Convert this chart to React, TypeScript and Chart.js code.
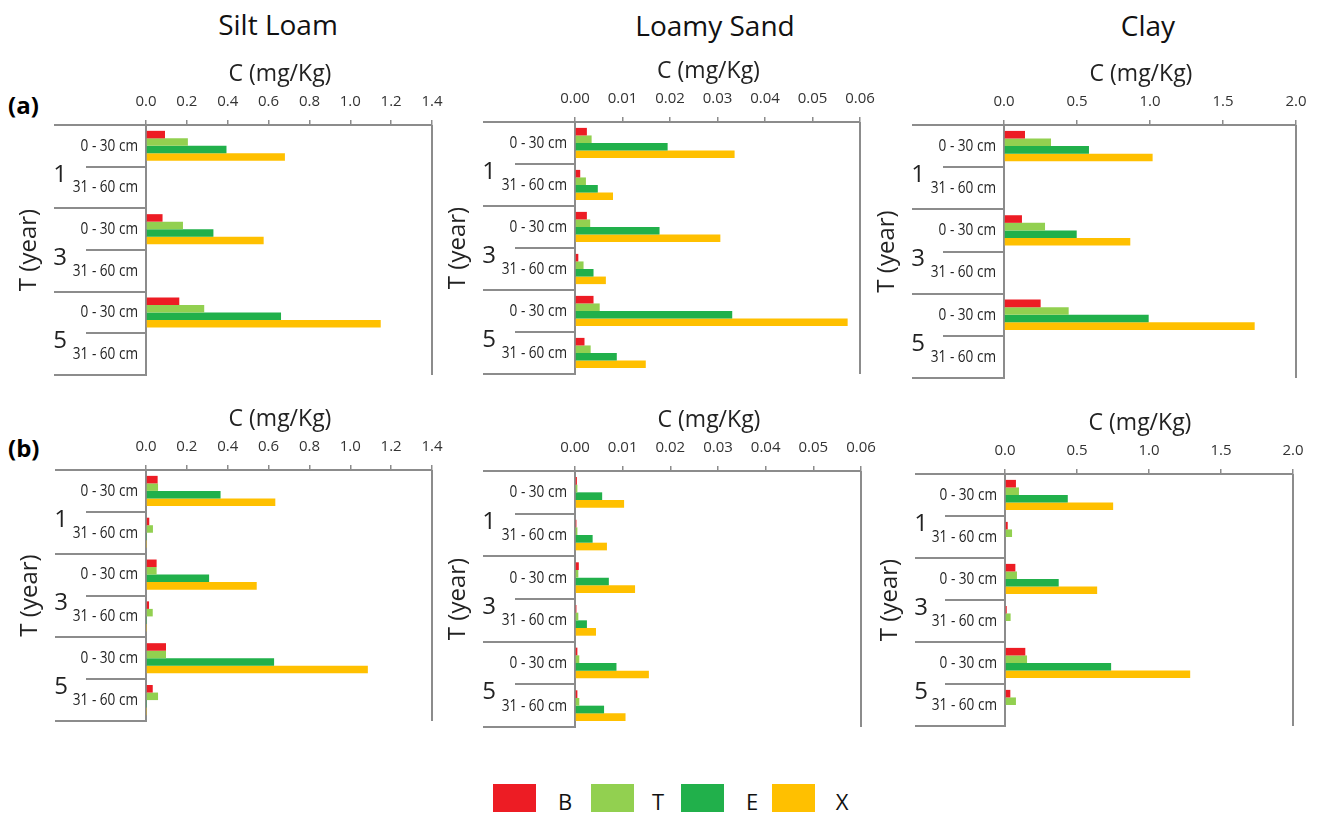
import React, { useEffect, useRef } from "react";
import { Chart, registerables } from "chart.js";

Chart.register(...registerables);

// ---- categories and labels ----
const depthLabels = ["0 - 30 cm", "31 - 60 cm", "0 - 30 cm", "31 - 60 cm", "0 - 30 cm", "31 - 60 cm"];
const yearLabels = ["1", "3", "5"];
const soilTitles = ["Silt Loam", "Loamy Sand", "Clay"];
const rowTags = ["(a)", "(b)"];
const seriesNames = ["B", "T", "E", "X"];
const seriesColors = ["#ED1C24", "#92D050", "#21B04B", "#FFC000"];
const concTitle = "C (mg/Kg)";
const timeTitle = "T (year)";

// ---- axis ranges ----
const siltMax = 1.4;
const siltStep = 0.2;
const sandMax = 0.06;
const sandStep = 0.01;
const clayMax = 2.0;
const clayStep = 0.5;

// ---- row (a) concentrations, one value per depth slot ----
const siltA_B = [0.093, 0, 0.081, 0, 0.163, 0];
const siltA_T = [0.205, 0, 0.181, 0, 0.285, 0];
const siltA_E = [0.394, 0, 0.33, 0, 0.661, 0];
const siltA_X = [0.68, 0, 0.576, 0, 1.149, 0];

const sandA_B = [0.0025, 0.0011, 0.0025, 0.0007, 0.0039, 0.002];
const sandA_T = [0.0035, 0.0023, 0.0032, 0.0018, 0.0052, 0.0033];
const sandA_E = [0.0195, 0.0048, 0.0178, 0.0039, 0.0331, 0.0088];
const sandA_X = [0.0336, 0.008, 0.0306, 0.0065, 0.0574, 0.0149];

const clayA_B = [0.144, 0, 0.123, 0, 0.251, 0];
const clayA_T = [0.322, 0, 0.281, 0, 0.443, 0];
const clayA_E = [0.582, 0, 0.498, 0, 0.991, 0];
const clayA_X = [1.018, 0, 0.865, 0, 1.717, 0];

// ---- row (b) concentrations ----
const siltB_B = [0.057, 0.016, 0.052, 0.015, 0.098, 0.033];
const siltB_T = [0.059, 0.034, 0.052, 0.033, 0.098, 0.059];
const siltB_E = [0.365, 0.002, 0.309, 0.002, 0.627, 0.002];
const siltB_X = [0.633, 0.002, 0.542, 0.002, 1.086, 0.002];

const sandB_B = [0.0004, 0.0003, 0.0008, 0.0003, 0.0005, 0.0005];
const sandB_T = [0.0005, 0.0005, 0.0007, 0.0007, 0.0009, 0.0009];
const sandB_E = [0.0057, 0.0037, 0.0071, 0.0025, 0.0087, 0.0061];
const sandB_X = [0.0103, 0.0067, 0.0126, 0.0044, 0.0155, 0.0106];

const clayB_B = [0.076, 0.019, 0.072, 0.012, 0.141, 0.037];
const clayB_T = [0.097, 0.049, 0.083, 0.039, 0.153, 0.076];
const clayB_E = [0.436, 0, 0.373, 0, 0.737, 0];
const clayB_X = [0.751, 0, 0.64, 0, 1.286, 0];

const FONT = '"Open Sans", "DejaVu Sans", sans-serif';
const AXIS_GREY = "#8c8c8c";
const TEXT = "#222";

// space reserved inside each canvas around the plot area
const PAD_L = 140;
const PAD_T = 90;
const PAD_R = 30;
const PAD_B = 12;

type Frame = { left: number; right: number; top: number; bottom: number; longStart: number; shortStart: number };

type PanelProps = {
  values: number[][];
  max: number;
  step: number;
  decimals: number;
  frame: Frame;
};

function Panel({ values, max, step, decimals, frame }: PanelProps) {
  const ref = useRef<HTMLCanvasElement | null>(null);
  const canvasLeft = frame.left - PAD_L;
  const canvasTop = frame.top - PAD_T;
  const width = frame.right - frame.left + PAD_L + PAD_R;
  const height = frame.bottom - frame.top + PAD_T + PAD_B;

  useEffect(() => {
    if (!ref.current) return;
    const longX = frame.longStart - canvasLeft;
    const shortX = frame.shortStart - canvasLeft;

    const decorations = {
      id: "depthDecorations",
      afterDraw(chart: any) {
        const { ctx, chartArea: a } = chart;
        const yScale = chart.scales.y;
        const slot = (a.bottom - a.top) / depthLabels.length;
        ctx.save();
        // category separators: long at year boundaries, short between depths
        ctx.strokeStyle = AXIS_GREY;
        ctx.lineWidth = 2;
        for (let i = 0; i <= depthLabels.length; i++) {
          const yy = Math.round(a.top + i * slot);
          const x0 = i % 2 === 0 ? longX : shortX;
          ctx.beginPath();
          ctx.moveTo(x0, yy);
          ctx.lineTo(a.left, yy);
          ctx.stroke();
        }
        // right frame edge
        ctx.beginPath();
        ctx.moveTo(a.right, a.top);
        ctx.lineTo(a.right, a.bottom);
        ctx.stroke();

        // depth labels, narrow lettering
        ctx.fillStyle = TEXT;
        ctx.font = `17px ${FONT}`;
        ctx.textAlign = "right";
        ctx.textBaseline = "middle";
        depthLabels.forEach((lab, i) => {
          const cy = yScale.getPixelForValue(i);
          ctx.save();
          ctx.translate(a.left - 8, cy);
          ctx.scale(0.8, 1);
          ctx.fillText(lab, 0, 0);
          ctx.restore();
        });

        // year labels
        ctx.font = `24px ${FONT}`;
        ctx.textAlign = "center";
        yearLabels.forEach((lab, g) => {
          const cy = a.top + (2 * g + 1) * slot + 8;
          ctx.fillText(lab, longX + 6, cy);
        });

        // vertical axis title
        ctx.save();
        ctx.translate(longX - 25, (a.top + a.bottom) / 2);
        ctx.rotate(-Math.PI / 2);
        ctx.font = `24px ${FONT}`;
        ctx.fillText(timeTitle, 0, 0);
        ctx.restore();

        // horizontal axis title
        ctx.font = `23px ${FONT}`;
        ctx.fillText(concTitle, (a.left + a.right) / 2 - 9, a.top - 51);
        ctx.restore();
      },
    };

    const chart = new Chart(ref.current, {
      type: "bar",
      data: {
        labels: depthLabels,
        datasets: seriesNames.map((name, k) => ({
          label: name,
          data: values[k],
          backgroundColor: seriesColors[k],
          borderWidth: 0,
          categoryPercentage: 0.72,
          barPercentage: 1,
        })),
      },
      options: {
        indexAxis: "y",
        responsive: false,
        animation: false,
        events: [],
        layout: { padding: { left: 0, top: 0, right: PAD_R, bottom: PAD_B } },
        plugins: {
          legend: { display: false },
          tooltip: { enabled: false },
          title: { display: false },
        },
        scales: {
          x: {
            type: "linear",
            position: "top",
            min: 0,
            max,
            ticks: {
              stepSize: step,
              autoSkip: false,
              maxRotation: 0,
              padding: 9,
              color: "#333",
              font: { family: FONT, size: 15 },
              callback: (v: any) => Number(v).toFixed(decimals),
            },
            grid: {
              display: true,
              drawOnChartArea: false,
              drawTicks: true,
              tickLength: 5,
              color: AXIS_GREY,
              lineWidth: 1.5,
            },
            border: { display: true, color: AXIS_GREY, width: 2 },
            afterFit: (s: any) => {
              s.height = PAD_T;
            },
          },
          y: {
            type: "category",
            ticks: { display: false },
            grid: { display: false, drawTicks: false },
            border: { display: true, color: AXIS_GREY, width: 2 },
            afterFit: (s: any) => {
              s.width = PAD_L;
            },
          },
        },
      } as any,
      plugins: [decorations],
    });
    return () => chart.destroy();
  }, []);

  return (
    <canvas
      ref={ref}
      width={width}
      height={height}
      style={{ position: "absolute", left: canvasLeft, top: canvasTop, width, height }}
    />
  );
}

const frameA1: Frame = { left: 146, right: 432, top: 125, bottom: 375, longStart: 54, shortStart: 86 };
const frameA2: Frame = { left: 575, right: 860, top: 122, bottom: 374, longStart: 483, shortStart: 515 };
const frameA3: Frame = { left: 1004, right: 1296, top: 125, bottom: 378, longStart: 912, shortStart: 943 };
const frameB1: Frame = { left: 146, right: 432, top: 470, bottom: 721, longStart: 55, shortStart: 86 };
const frameB2: Frame = { left: 575, right: 861, top: 471, bottom: 727, longStart: 483, shortStart: 515 };
const frameB3: Frame = { left: 1005, right: 1293, top: 474, bottom: 726, longStart: 915, shortStart: 945 };

const titleX = [278, 715, 1148];
const legendBoxX = [493, 591, 681, 772];
const legendTextX = [565, 658, 752, 842];

function Centered({ x, y, size, bold, children }: any) {
  return (
    <div
      style={{
        position: "absolute",
        left: x,
        top: y,
        transform: "translate(-50%, -50%)",
        fontSize: size,
        fontWeight: bold ? 700 : 400,
        lineHeight: 1,
        whiteSpace: "nowrap",
        color: "#111",
      }}
    >
      {children}
    </div>
  );
}

export default function App() {
  return (
    <div
      style={{
        position: "absolute",
        left: 0,
        top: 0,
        width: 1320,
        height: 815,
        background: "#fff",
        fontFamily: FONT,
        overflow: "hidden",
      }}
    >
      {soilTitles.map((t, i) => (
        <Centered key={t} x={titleX[i]} y={i === 0 ? 24 : 25} size={28}>
          {t}
        </Centered>
      ))}
      <div style={{ position: "absolute", left: 8, top: 105, transform: "translateY(-50%)", fontSize: 24, fontWeight: 700, lineHeight: 1 }}>
        {rowTags[0]}
      </div>
      <div style={{ position: "absolute", left: 8, top: 448, transform: "translateY(-50%)", fontSize: 24, fontWeight: 700, lineHeight: 1 }}>
        {rowTags[1]}
      </div>

      <Panel values={[siltA_B, siltA_T, siltA_E, siltA_X]} max={siltMax} step={siltStep} decimals={1} frame={frameA1} />
      <Panel values={[sandA_B, sandA_T, sandA_E, sandA_X]} max={sandMax} step={sandStep} decimals={2} frame={frameA2} />
      <Panel values={[clayA_B, clayA_T, clayA_E, clayA_X]} max={clayMax} step={clayStep} decimals={1} frame={frameA3} />
      <Panel values={[siltB_B, siltB_T, siltB_E, siltB_X]} max={siltMax} step={siltStep} decimals={1} frame={frameB1} />
      <Panel values={[sandB_B, sandB_T, sandB_E, sandB_X]} max={sandMax} step={sandStep} decimals={2} frame={frameB2} />
      <Panel values={[clayB_B, clayB_T, clayB_E, clayB_X]} max={clayMax} step={clayStep} decimals={1} frame={frameB3} />

      {seriesNames.map((name, k) => (
        <React.Fragment key={name}>
          <div
            style={{
              position: "absolute",
              left: legendBoxX[k],
              top: 784,
              width: 43,
              height: 28,
              background: seriesColors[k],
            }}
          />
          <Centered x={legendTextX[k]} y={801} size={22}>
            {name}
          </Centered>
        </React.Fragment>
      ))}
    </div>
  );
}
